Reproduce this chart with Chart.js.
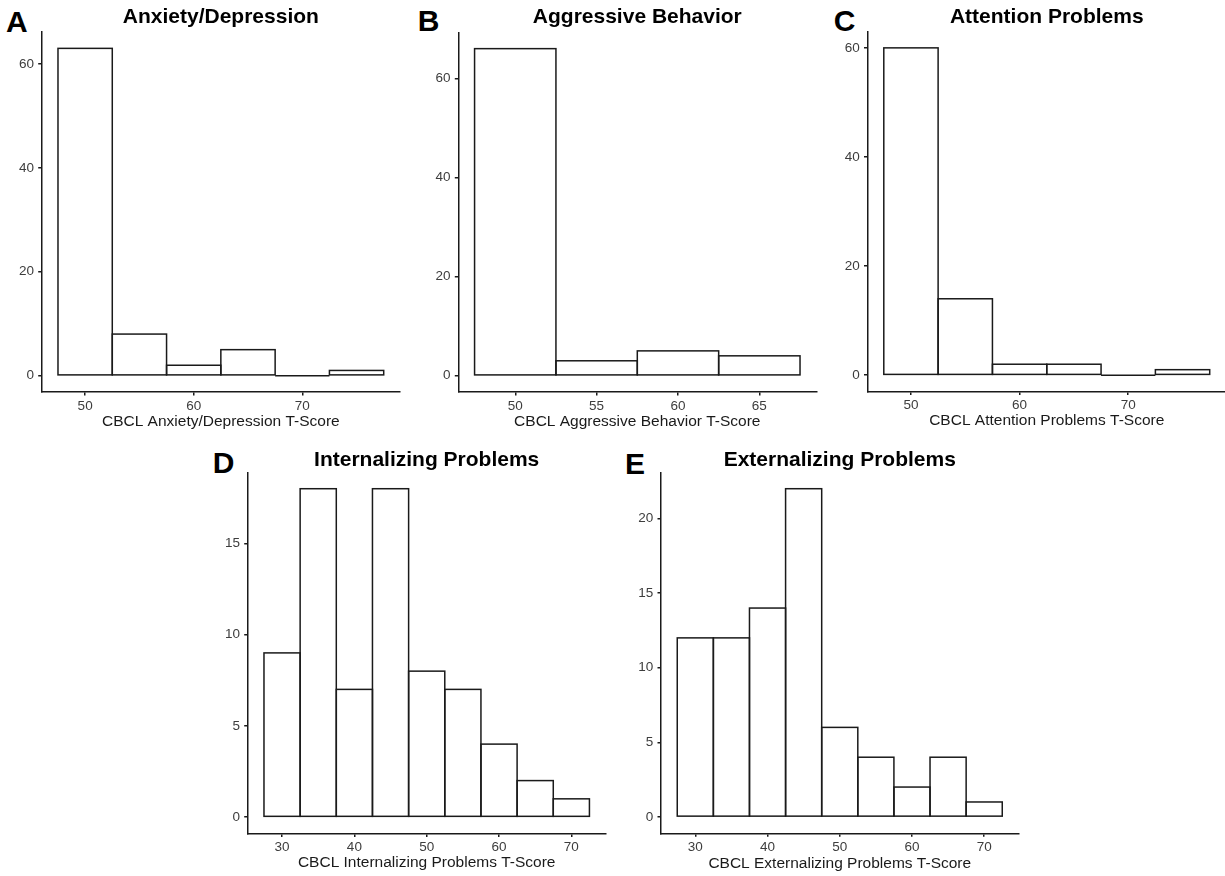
<!DOCTYPE html>
<html>
<head>
<meta charset="utf-8">
<script src="https://cdn.jsdelivr.net/npm/chart.js@4.4.1/dist/chart.umd.min.js"></script>
<style>
  html, body { margin:0; padding:0; width:1225px; height:876px; overflow:hidden; background:#fff; }
  canvas { position:absolute; }
  .lbl { position:absolute; font-family:"Liberation Sans", Arial, sans-serif; font-weight:bold; font-size:30px; line-height:30px; color:#000; }
</style>
</head>
<body>
<div class="lbl" style="left:6px;top:6.8px">A</div>
<div class="lbl" style="left:417.8px;top:6.1px">B</div>
<div class="lbl" style="left:833.7px;top:6.1px">C</div>
<div class="lbl" style="left:212.8px;top:447.8px">D</div>
<div class="lbl" style="left:625.1px;top:448.8px">E</div>

<canvas id="cA"></canvas>
<canvas id="cB"></canvas>
<canvas id="cC"></canvas>
<canvas id="cD"></canvas>
<canvas id="cE"></canvas>

<script>
// ---------- DATA ----------
// Bin centres (T-score, bin width 5) and counts per panel
const binsA = [50, 55, 60, 65, 70, 75];
const countsA = [63, 8, 2, 5, 0, 1];
const xTicksA = [50, 60, 70];
const yTicksA = [0, 20, 40, 60];

const binsB = [50, 55, 60, 65];
const countsB = [66, 3, 5, 4];
const xTicksB = [50, 55, 60, 65];
const yTicksB = [0, 20, 40, 60];

const binsC = [50, 55, 60, 65, 70, 75];
const countsC = [60, 14, 2, 2, 0, 1];
const xTicksC = [50, 60, 70];
const yTicksC = [0, 20, 40, 60];

const binsD = [30, 35, 40, 45, 50, 55, 60, 65, 70];
const countsD = [9, 18, 7, 18, 8, 7, 4, 2, 1];
const xTicksD = [30, 40, 50, 60, 70];
const yTicksD = [0, 5, 10, 15];

const binsE = [30, 35, 40, 45, 50, 55, 60, 65, 70];
const countsE = [12, 12, 14, 22, 6, 4, 2, 4, 1];
const xTicksE = [30, 40, 50, 60, 70];
const yTicksE = [0, 5, 10, 15, 20];

const binWidth = 5;

const titles = ["Anxiety/Depression", "Aggressive Behavior", "Attention Problems", "Internalizing Problems", "Externalizing Problems"];
const xTitles = ["CBCL Anxiety/Depression T-Score", "CBCL Aggressive Behavior T-Score", "CBCL Attention Problems T-Score", "CBCL Internalizing Problems T-Score", "CBCL Externalizing Problems T-Score"];

// ---------- LAYOUT ----------
const FONT = '"Liberation Sans", Arial, sans-serif';
const LINE = '#1a1a1a';
const LW = 1.5;
Chart.defaults.font.family = FONT;

const layouts = [
  { id:'cA', canvas:{l:0,   t:0,   w:405, h:440}, plot:{l:41.7,  t:32,    r:400,   b:392},   titleY:17,  xTitleY:422 },
  { id:'cB', canvas:{l:405, t:0,   w:415, h:440}, plot:{l:458.3, t:32.3,  r:816.3, b:392},   titleY:17,  xTitleY:422 },
  { id:'cC', canvas:{l:820, t:0,   w:406, h:440}, plot:{l:867.5, t:31.5,  r:1226,  b:391.5}, titleY:17,  xTitleY:421 },
  { id:'cD', canvas:{l:190, t:440, w:430, h:436}, plot:{l:247.7, t:472.3, r:605.7, b:833.5}, titleY:460, xTitleY:862.8 },
  { id:'cE', canvas:{l:620, t:440, w:410, h:436}, plot:{l:661,   t:472.3, r:1018.5,b:833.3}, titleY:460, xTitleY:863.3 }
];

const series = [
  { bins:binsA, counts:countsA, xTicks:xTicksA, yTicks:yTicksA },
  { bins:binsB, counts:countsB, xTicks:xTicksB, yTicks:yTicksB },
  { bins:binsC, counts:countsC, xTicks:xTicksC, yTicks:yTicksC },
  { bins:binsD, counts:countsD, xTicks:xTicksD, yTicks:yTicksD },
  { bins:binsE, counts:countsE, xTicks:xTicksE, yTicks:yTicksE }
];

const outlinePlugin = {
  id: 'histOutline',
  afterDatasetsDraw(chart) {
    const ctx = chart.ctx;
    const meta = chart.getDatasetMeta(0);
    ctx.save();
    ctx.strokeStyle = LINE;
    ctx.lineWidth = LW;
    meta.data.forEach(el => {
      const p = el.getProps(['x', 'y', 'base', 'width'], true);
      ctx.strokeRect(p.x - p.width / 2, Math.min(p.y, p.base), p.width, Math.abs(p.base - p.y));
    });
    ctx.restore();
  }
};

layouts.forEach((L, i) => {
  const S = series[i];
  const cv = document.getElementById(L.id);
  cv.width = L.canvas.w; cv.height = L.canvas.h;
  cv.style.left = L.canvas.l + 'px'; cv.style.top = L.canvas.t + 'px';
  cv.style.width = L.canvas.w + 'px'; cv.style.height = L.canvas.h + 'px';

  // ggplot-style 5% expansion of the data range
  const lo = S.bins[0] - binWidth / 2, hi = S.bins[S.bins.length - 1] + binWidth / 2;
  const xPad = 0.05 * (hi - lo);
  const yMax = Math.max(...S.counts), yPad = 0.05 * yMax;

  const yAxisW = L.plot.l - L.canvas.l;
  const xAxisH = (L.canvas.t + L.canvas.h) - L.plot.b;
  const padRight = (L.canvas.l + L.canvas.w) - L.plot.r;
  const tFont = 21, tLH = 1.0;
  const tPadTop = L.titleY - L.canvas.t - tFont * tLH / 2;
  const tPadBottom = (L.plot.t - L.canvas.t) - tPadTop - tFont * tLH;
  const xtFont = 15.5, xtLH = 1.2;
  const xtPadBottom = (L.canvas.t + L.canvas.h) - xtFont * xtLH / 2 - L.xTitleY;

  new Chart(cv, {
    type: 'bar',
    data: {
      datasets: [{
        data: S.bins.map((b, k) => ({ x: b, y: S.counts[k] })),
        backgroundColor: '#ffffff',
        borderWidth: 0,
        barPercentage: 1,
        categoryPercentage: 1
      }]
    },
    options: {
      responsive: false,
      animation: false,
      events: [],
      layout: { autoPadding: false, padding: { left: 0, top: 0, bottom: 0, right: padRight } },
      plugins: {
        legend: { display: false },
        tooltip: { enabled: false },
        title: {
          display: true, text: titles[i], fullSize: false, align: 'center', color: '#000',
          font: { size: tFont, weight: 'bold', lineHeight: tLH, family: FONT },
          padding: { top: tPadTop, bottom: tPadBottom }
        }
      },
      scales: {
        x: {
          type: 'linear', position: 'bottom', offset: false,
          min: lo - xPad, max: hi + xPad,
          afterBuildTicks: sc => { sc.ticks = S.xTicks.map(v => ({ value: v })); },
          afterFit: sc => { sc.height = xAxisH; },
          grid: { offset: false, drawOnChartArea: false, drawTicks: true, tickLength: 3.5, color: LINE, lineWidth: LW },
          border: { display: true, color: LINE, width: LW },
          ticks: { autoSkip: false, maxRotation: 0, padding: 2.3, color: '#3d3d3d', font: { size: 13.5, lineHeight: 1.2 } },
          title: { display: true, text: xTitles[i], color: '#1a1a1a', font: { size: xtFont, lineHeight: xtLH }, padding: { top: 0, bottom: xtPadBottom } }
        },
        y: {
          type: 'linear', position: 'left',
          min: -yPad, max: yMax + yPad,
          afterBuildTicks: sc => { sc.ticks = S.yTicks.map(v => ({ value: v })); },
          afterFit: sc => { sc.width = yAxisW; },
          grid: { drawOnChartArea: false, drawTicks: true, tickLength: 3.5, color: LINE, lineWidth: LW },
          border: { display: true, color: LINE, width: LW },
          ticks: { padding: 4.3, color: '#3d3d3d', font: { size: 13.5, lineHeight: 1.2 } }
        }
      }
    },
    plugins: [outlinePlugin]
  });
});
</script>
</body>
</html>
